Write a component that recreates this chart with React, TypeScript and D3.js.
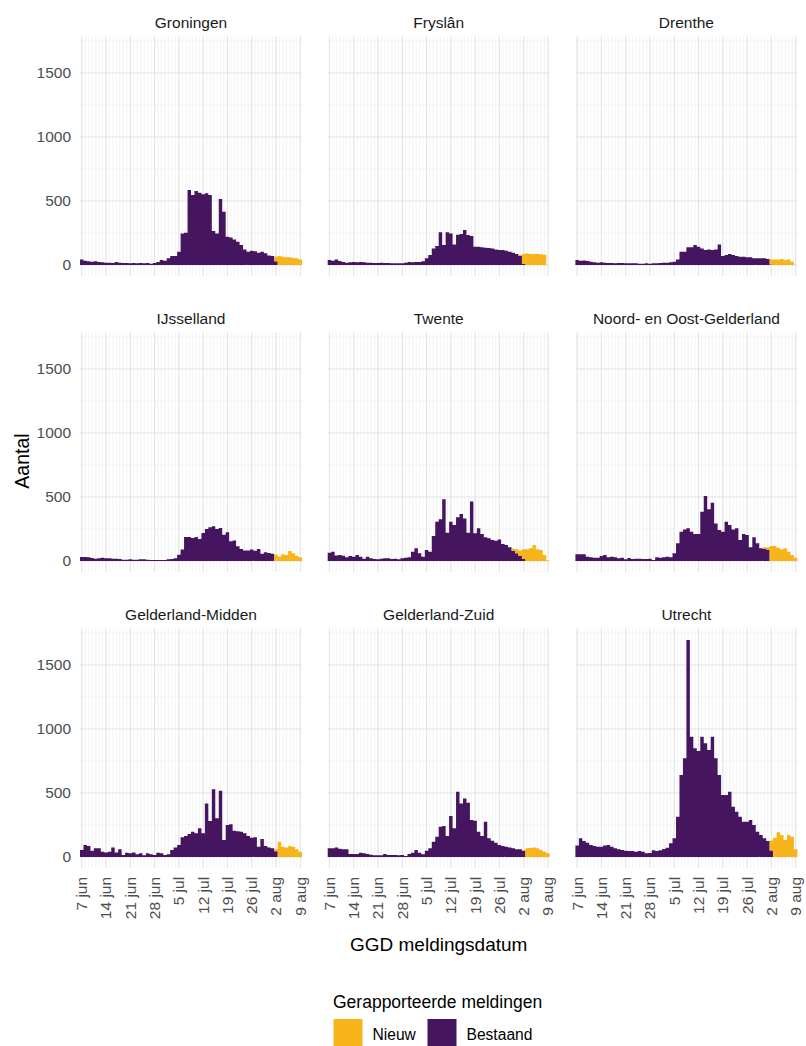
import React from "react";
import * as d3 from "d3";

const regions = [
  "Groningen",
  "Fryslân",
  "Drenthe",
  "IJsselland",
  "Twente",
  "Noord- en Oost-Gelderland",
  "Gelderland-Midden",
  "Gelderland-Zuid",
  "Utrecht",
];

// daily counts 7 jun .. 9 aug (64 days), existing reports
const groningenBestaand = [
  44, 34, 29, 26, 29, 23, 21, 18, 18, 16, 23, 18, 16, 16, 13, 16, 13, 16, 13, 16,
  10, 16, 23, 39, 34, 52, 70, 70, 104, 247, 253, 586, 547, 578, 565, 552, 560, 547, 266, 247,
  516, 417, 221, 214, 200, 182, 156, 122, 104, 112, 107, 96, 104, 91, 75, 70, 30, 0, 0, 0,
  0, 0, 0, 0,
];
const fryslanBestaand = [
  39, 34, 44, 31, 23, 18, 21, 23, 21, 23, 21, 18, 18, 16, 16, 18, 16, 16, 13, 13,
  13, 13, 18, 23, 21, 23, 23, 29, 52, 78, 130, 148, 255, 156, 255, 247, 161, 237, 242, 273,
  234, 227, 143, 143, 138, 135, 133, 130, 122, 117, 117, 112, 104, 96, 86, 70, 10, 0, 0, 0,
  0, 0, 0, 0,
];
const drentheBestaand = [
  39, 34, 36, 31, 26, 21, 18, 21, 18, 16, 16, 13, 16, 16, 13, 13, 13, 13, 10, 10,
  13, 10, 13, 13, 16, 18, 18, 21, 26, 44, 104, 104, 138, 138, 156, 143, 130, 117, 122, 117,
  122, 161, 70, 78, 86, 78, 70, 65, 65, 60, 60, 52, 52, 52, 52, 47, 5, 0, 0, 0,
  0, 0, 0, 0,
];
const ijsselBestaand = [
  31, 31, 29, 23, 18, 21, 26, 21, 21, 18, 18, 16, 10, 10, 13, 10, 10, 13, 13, 10,
  8, 8, 8, 8, 8, 13, 16, 21, 49, 89, 188, 188, 180, 188, 172, 219, 250, 263, 271, 250,
  258, 206, 224, 154, 161, 115, 94, 83, 83, 89, 81, 94, 57, 68, 63, 57, 0, 0, 0, 0,
  0, 0, 0, 0,
];
const twenteBestaand = [
  65, 73, 44, 47, 42, 29, 39, 34, 47, 34, 18, 34, 21, 16, 13, 18, 21, 21, 16, 18,
  13, 21, 26, 29, 73, 99, 60, 34, 86, 73, 195, 307, 326, 482, 221, 307, 281, 341, 367, 333,
  221, 464, 216, 255, 211, 185, 177, 164, 159, 169, 133, 125, 107, 80, 60, 40, 15, 0, 0, 0,
  0, 0, 0, 0,
];
const noordOostBestaand = [
  52, 52, 52, 34, 29, 26, 26, 39, 47, 29, 34, 29, 21, 26, 13, 23, 16, 18, 18, 16,
  16, 18, 8, 29, 26, 29, 34, 29, 60, 138, 229, 247, 255, 229, 211, 211, 385, 508, 404, 456,
  294, 242, 229, 307, 281, 247, 255, 164, 211, 203, 107, 185, 138, 99, 95, 90, 0, 0, 0, 0,
  0, 0, 0, 0,
];
const gldMiddenBestaand = [
  55, 94, 86, 49, 68, 68, 42, 36, 42, 75, 36, 60, 16, 34, 29, 36, 21, 29, 13, 29,
  21, 16, 34, 29, 16, 21, 55, 75, 94, 154, 164, 180, 198, 185, 224, 185, 419, 281, 529, 302,
  518, 133, 250, 255, 206, 201, 198, 185, 164, 151, 154, 81, 141, 86, 75, 68, 45, 0, 0, 0,
  0, 0, 0, 0,
];
const gldZuidBestaand = [
  68, 68, 75, 65, 60, 60, 23, 23, 23, 34, 29, 23, 18, 13, 13, 13, 23, 16, 16, 16,
  13, 16, 8, 23, 34, 55, 34, 21, 49, 68, 120, 159, 237, 242, 164, 320, 224, 510, 419, 458,
  424, 289, 284, 198, 164, 276, 146, 128, 112, 94, 86, 81, 75, 68, 60, 60, 49, 0, 0, 0,
  0, 0, 0, 0,
];
const utrechtBestaand = [
  89, 146, 125, 112, 94, 86, 81, 81, 89, 94, 81, 68, 60, 55, 49, 47, 47, 42, 47, 42,
  29, 31, 52, 47, 52, 63, 73, 107, 146, 315, 641, 771, 1695, 940, 849, 828, 940, 888, 836, 940,
  771, 641, 484, 484, 510, 393, 354, 315, 276, 276, 289, 250, 198, 172, 146, 125, 50, 0, 0, 0,
  0, 0, 0, 0,
];

// new reports, from 29 jul (day 52) to 9 aug
const NIEUW_FROM = 52;
const groningenNieuw = [0, 0, 0, 0, 35, 70, 65, 60, 60, 55, 52, 44];
const fryslanNieuw = [0, 0, 0, 8, 76, 90, 86, 86, 86, 84, 80, 0];
const drentheNieuw = [0, 0, 0, 0, 39, 44, 44, 47, 39, 44, 26, 0];
const ijsselNieuw = [0, 0, 0, 0, 49, 36, 52, 47, 78, 60, 42, 30];
const twenteNieuw = [0, 15, 31, 43, 76, 91, 99, 125, 91, 86, 47, 5];
const noordOostNieuw = [0, 0, 12, 17, 117, 117, 104, 91, 99, 73, 47, 26];
const gldMiddenNieuw = [0, 0, 0, 0, 15, 120, 81, 75, 86, 81, 60, 42];
const gldZuidNieuw = [0, 0, 0, 0, 5, 68, 70, 75, 68, 55, 42, 29];
const utrechtNieuw = [0, 0, 0, 0, 80, 150, 193, 172, 133, 172, 159, 60];

const bestaandSeries = [
  groningenBestaand, fryslanBestaand, drentheBestaand,
  ijsselBestaand, twenteBestaand, noordOostBestaand,
  gldMiddenBestaand, gldZuidBestaand, utrechtBestaand,
];
const nieuwSeries = [
  groningenNieuw, fryslanNieuw, drentheNieuw,
  ijsselNieuw, twenteNieuw, noordOostNieuw,
  gldMiddenNieuw, gldZuidNieuw, utrechtNieuw,
];

const xTickLabels = ["7 jun", "14 jun", "21 jun", "28 jun", "5 jul", "12 jul", "19 jul", "26 jul", "2 aug", "9 aug"];
const yTicks = [0, 500, 1000, 1500];
const yMinor = [250, 750, 1250, 1750];

const legendKeys = ["Nieuw", "Bestaand"];
const colors: Record<string, string> = { Nieuw: "#F8B41B", Bestaand: "#45155F" };

const FIRST_DAY = new Date(Date.UTC(2021, 5, 7));
const NDAYS = 64;

const PW = 222;
const PH = 239.4;
const COL_X = [80, 327.7, 575.4];
const ROW_Y = [36.5, 332.5, 628.5];
const FONT = "'Liberation Sans', Arial, sans-serif";

const days = d3.range(NDAYS).map((i) => d3.utcDay.offset(FIRST_DAY, i));
const weekTicks = xTickLabels.map((_, k) => d3.utcDay.offset(FIRST_DAY, 7 * k));

const x = d3
  .scaleUtc()
  .domain([d3.utcHour.offset(FIRST_DAY, -12), d3.utcHour.offset(days[NDAYS - 1], 12)])
  .range([0, PW]);
const y = d3.scaleLinear().domain([-85, 1785]).range([PH, 0]);

const stacker = d3.stack<any>().keys(["bestaand", "nieuw"]);

// one path per layer so neighbouring bars don't show seams
const layerPath = (layer: any[]) => {
  const p = d3.path();
  layer.forEach((s, i) => {
    if (s[1] <= s[0]) return;
    const x0 = x(d3.utcHour.offset(days[i], -12));
    const x1 = x(d3.utcHour.offset(days[i], 12));
    p.rect(x0, y(s[1]), x1 - x0, y(s[0]) - y(s[1]));
  });
  return p.toString();
};

const Panel = ({ idx }: { idx: number }) => {
  const col = idx % 3;
  const row = Math.floor(idx / 3);
  const rows = days.map((d, i) => ({
    date: d,
    bestaand: bestaandSeries[idx][i],
    nieuw: i >= NIEUW_FROM ? nieuwSeries[idx][i - NIEUW_FROM] : 0,
  }));
  const stacked = stacker(rows);
  const fills = [colors.Bestaand, colors.Nieuw];
  return (
    <g transform={`translate(${COL_X[col]},${ROW_Y[row]})`}>
      <text x={PW / 2} y={-9} textAnchor="middle" fontSize={15.5} fill="#1a1a1a">
        {regions[idx]}
      </text>
      {days.map((d, i) => (
        <line key={"vm" + i} x1={x(d)} x2={x(d)} y1={0} y2={PH} stroke="#ececec" strokeWidth={0.6} />
      ))}
      {yMinor.map((v) => (
        <line key={"hm" + v} x1={0} x2={PW} y1={y(v)} y2={y(v)} stroke="#ececec" strokeWidth={0.6} />
      ))}
      {weekTicks.map((d, i) => (
        <line key={"vM" + i} x1={x(d)} x2={x(d)} y1={0} y2={PH} stroke="#e3e3e3" strokeWidth={1.1} />
      ))}
      {yTicks.map((v) => (
        <line key={"hM" + v} x1={0} x2={PW} y1={y(v)} y2={y(v)} stroke="#e3e3e3" strokeWidth={1.1} />
      ))}
      {stacked.map((layer, li) => (
        <path key={"layer" + li} d={layerPath(layer)} fill={fills[li]} />
      ))}
      {col === 0 &&
        yTicks.map((v) => (
          <text key={"yl" + v} x={-9} y={y(v)} dy="0.35em" textAnchor="end" fontSize={15.5} fill="#4d4d4d">
            {v}
          </text>
        ))}
      {row === 2 &&
        weekTicks.map((d, i) => (
          <text
            key={"xl" + i}
            transform={`translate(${x(d)},${PH + 9}) rotate(-90)`}
            dy="0.35em"
            textAnchor="end"
            fontSize={15.5}
            fill="#4d4d4d"
          >
            {xTickLabels[i]}
          </text>
        ))}
    </g>
  );
};

export default function App() {
  return (
    <svg
      width={806}
      height={1046}
      style={{ position: "absolute", left: 0, top: 0, background: "#fff" }}
      fontFamily={FONT}
    >
      <rect width={806} height={1046} fill="#fff" />
      {regions.map((_, i) => (
        <Panel key={i} idx={i} />
      ))}
      <text transform="translate(22,461) rotate(-90)" dy="0.35em" textAnchor="middle" fontSize={19.5} fill="#000">
        Aantal
      </text>
      <text x={438.7} y={951} textAnchor="middle" fontSize={19} fill="#000">
        GGD meldingsdatum
      </text>
      <text x={333} y={1008} fontSize={17.5} fill="#000">
        Gerapporteerde meldingen
      </text>
      {legendKeys.map((k, i) => (
        <g key={k} transform={`translate(${i === 0 ? 333.5 : 427.5},1019)`}>
          <rect width={29} height={30} fill={colors[k]} />
          <text x={39} y={21} fontSize={15.6} fill="#000">
            {k}
          </text>
        </g>
      ))}
    </svg>
  );
}
